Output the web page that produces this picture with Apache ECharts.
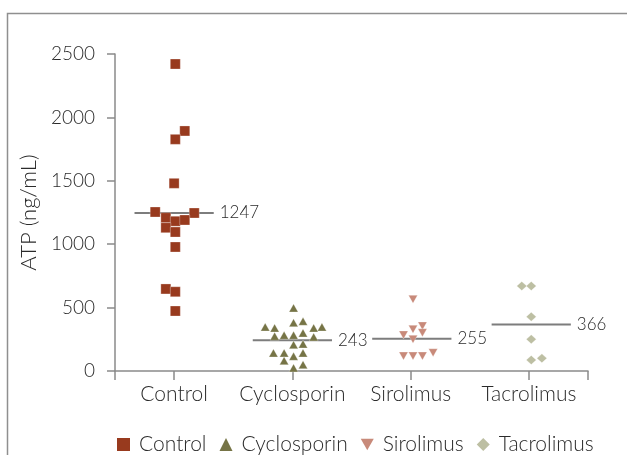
<!DOCTYPE html>
<html>
<head>
<meta charset="utf-8">
<script src="https://cdn.jsdelivr.net/npm/echarts@6/dist/echarts.min.js"></script>
<style>
html,body{margin:0;padding:0;background:#fff;}
#chart{width:627px;height:455px;}
</style>
</head>
<body>
<div id="chart"></div>
<script>
// ---- data ----
const categories = ['Control', 'Cyclosporin', 'Sirolimus', 'Tacrolimus'];
const yTicks = [0, 500, 1000, 1500, 2000, 2500];

const controlValues = [2421, 1893, 1827, 1480, 1254, 1246, 1209, 1181, 1191, 1130, 1096, 978, 647, 625, 473];
const controlOffsets = [0.01, 0.09, 0.01, 0.0, -0.16, 0.17, -0.07, 0.01, 0.09, -0.07, 0.01, 0.01, -0.07, 0.01, 0.01];

const cyclosporinValues = [497, 381, 392, 347, 339, 300, 339, 347, 274, 282, 282, 268, 207, 213, 142, 142, 116, 142, 81, 24, 50];
const cyclosporinOffsets = [0.01, 0.01, 0.09, -0.23, -0.15, 0.09, 0.18, 0.25, -0.15, -0.07, 0.01, 0.18, 0.01, 0.09, -0.16, -0.07, 0.01, 0.09, -0.07, 0.01, 0.09];

const sirolimusValues = [565, 355, 329, 302, 284, 250, 118, 118, 118, 144];
const sirolimusOffsets = [0.02, 0.10, 0.02, 0.10, -0.06, 0.02, -0.06, 0.02, 0.10, 0.19];

const tacrolimusValues = [670, 670, 428, 250, 87, 100];
const tacrolimusOffsets = [-0.06, 0.02, 0.02, 0.02, 0.02, 0.11];

const means = [1247, 243, 255, 366];
const meanShift = [0, 0, 0.01, 0.02];

// ---- styling ----
const colors = ['#983A1E', '#767446', '#C88A7A', '#BDBFA3'];
const symbols = ['rect', 'triangle', 'triangle', 'diamond'];
const symbolRotates = [0, 0, 180, 0];
const symbolSizes = [[10, 10], [9, 8], [9, 8], [10, 9]];
const FONT = 'Lato, "Open Sans", sans-serif';
const WEIGHT = 300;
const TEXT = '#2b2b2b';
const AXIS = '#8a8a8a';

const groups = [
  [controlValues, controlOffsets],
  [cyclosporinValues, cyclosporinOffsets],
  [sirolimusValues, sirolimusOffsets],
  [tacrolimusValues, tacrolimusOffsets]
];

const series = [];
groups.forEach(([vals, offs], i) => {
  series.push({
    name: categories[i],
    type: 'scatter',
    symbol: symbols[i],
    symbolRotate: symbolRotates[i],
    symbolSize: symbolSizes[i],
    itemStyle: { color: colors[i], opacity: 1, borderColor: 'rgba(255,255,255,0.35)', borderWidth: 0.8 },
    z: 5,
    data: vals.map((v, k) => [i + 0.5 + offs[k], v])
  });
});
means.forEach((m, i) => {
  const c = i + 0.5 + meanShift[i];
  series.push({
    type: 'line',
    silent: true,
    symbol: 'none',
    z: 2,
    lineStyle: { color: '#7d7d7d', width: 2 },
    data: [[c - 0.335, m], [c + 0.335, m]],
    endLabel: {
      show: true,
      formatter: String(m),
      distance: 6,
      fontFamily: FONT,
      fontWeight: WEIGHT,
      fontSize: 17,
      color: TEXT
    }
  });
});

const chart = echarts.init(document.getElementById('chart'), null, { renderer: 'canvas' });
chart.setOption({
  animation: false,
  backgroundColor: '#fff',
  textStyle: { fontFamily: FONT },
  graphic: [{
    type: 'rect',
    shape: { x: 7.5, y: 13.5, width: 800, height: 600 },
    style: { fill: 'none', stroke: '#8f8f8f', lineWidth: 1.5 },
    silent: true,
    z: -10
  }],
  grid: { left: 115, right: 39, top: 54, bottom: 84, containLabel: false },
  legend: {
    data: categories.map((c, i) => ({
      name: c,
      icon: i === 2 ? 'path://M0,0 L10,0 L5,9 Z' : symbols[i],
      itemStyle: { color: colors[i], borderWidth: 0 }
    })),
    left: 112,
    top: 429,
    itemWidth: 13,
    itemHeight: 13,
    itemGap: 13,
    textStyle: { fontFamily: FONT, fontWeight: WEIGHT, fontSize: 21, color: TEXT, padding: [0, 0, 0, 4] }
  },
  xAxis: {
    type: 'value',
    min: 0,
    max: 4,
    interval: 0.5,
    splitLine: { show: false },
    axisLine: { show: true, lineStyle: { color: AXIS, width: 1.5 } },
    axisTick: { show: true, length: 9, lineStyle: { color: AXIS, width: 1.5 }, customValues: [0, 0.5, 1.5, 2.5, 3.5, 4] },
    axisLabel: {
      customValues: [0.5, 1.5, 2.5, 3.5],
      formatter: v => categories[Math.round(v - 0.5)],
      margin: 13,
      fontFamily: FONT,
      fontWeight: WEIGHT,
      fontSize: 21,
      color: TEXT
    }
  },
  yAxis: {
    type: 'value',
    min: 0,
    max: 2500,
    interval: 500,
    name: 'ATP (ng/mL)',
    nameLocation: 'middle',
    nameGap: 66,
    nameTextStyle: { fontFamily: FONT, fontWeight: WEIGHT, fontSize: 22, color: TEXT },
    splitLine: { show: false },
    axisLine: { show: true, lineStyle: { color: AXIS, width: 1.5 } },
    axisTick: { show: true, length: 8, lineStyle: { color: AXIS, width: 1.5 } },
    axisLabel: {
      customValues: yTicks,
      formatter: v => String(v),
      margin: 20,
      fontFamily: FONT,
      fontWeight: WEIGHT,
      fontSize: 19,
      color: TEXT
    }
  },
  series: series
});
</script>
</body>
</html>
